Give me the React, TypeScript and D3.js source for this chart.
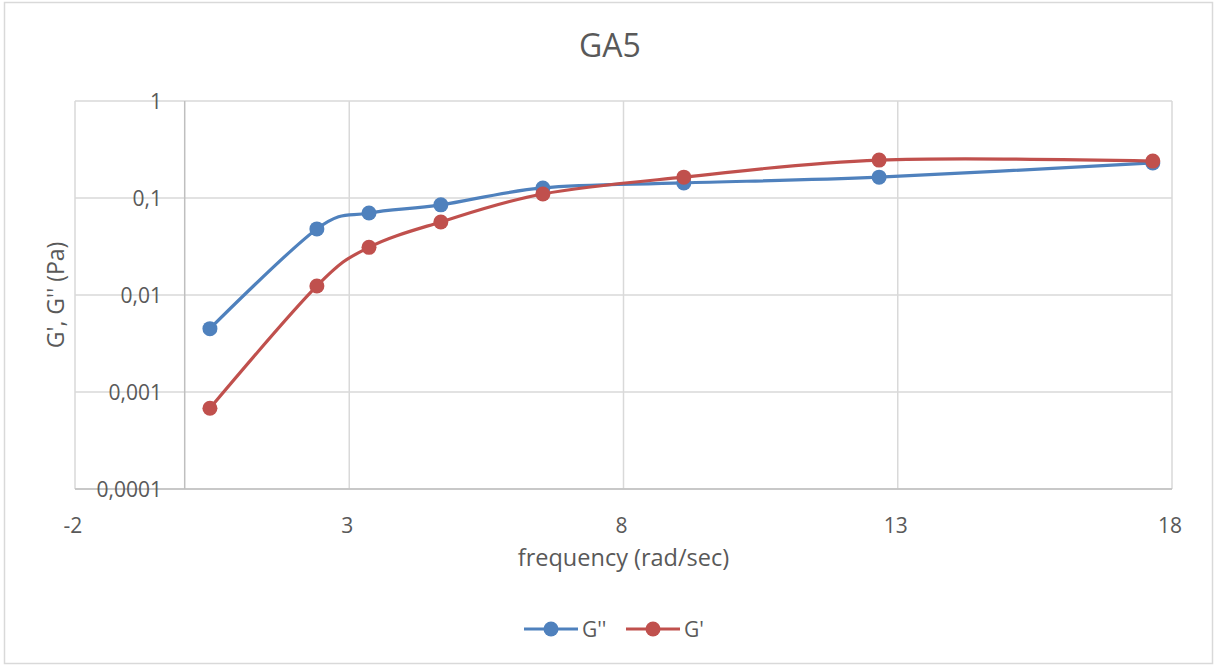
import React from "react";
import * as d3 from "d3";

const freq = [0.46, 2.41, 3.36, 4.67, 6.53, 9.1, 12.66, 17.65];
const gDoublePrime = [0.0045, 0.048, 0.070, 0.085, 0.127, 0.143, 0.164, 0.23];
const gPrime = [0.00068, 0.0124, 0.031, 0.0566, 0.11, 0.164, 0.246, 0.24];
const xTicks = [-2, 3, 8, 13, 18];
const yTicks = [1, 0.1, 0.01, 0.001, 0.0001];
const yTickLabels = ["1", "0,1", "0,01", "0,001", "0,0001"];

const W = 1215, H = 668;
const L = 75, R = 1172, T = 101, B = 489;
const FONT = "'Open Sans', 'Noto Sans', sans-serif";
const TXT = "#595959";

export default function App() {
  const x = d3.scaleLinear().domain([-2, 18]).range([L, R]);
  const y = d3.scaleLog().domain([0.0001, 1]).range([B, T]);
  const line = d3
    .line<[number, number]>()
    .x((d) => x(d[0]))
    .y((d) => y(d[1]))
    .curve(d3.curveCardinal.tension(0));
  const series = [
    { name: "G''", vals: gDoublePrime, color: "#4f81bd" },
    { name: "G'", vals: gPrime, color: "#c0504d" },
  ];
  return (
    <svg width={W} height={H} style={{ position: "absolute", left: 0, top: 0 }} fontFamily={FONT}>
      <rect x={0} y={0} width={W} height={H} fill="#fff" />
      <rect x={4.5} y={2.5} width={1208} height={661} fill="none" stroke="#d9d9d9" strokeWidth={1.5} />
      <text x={610} y={57} textAnchor="middle" fontSize={32} fill={TXT}>GA5</text>
      {yTicks.map((t) => (
        <line key={"h" + t} x1={L} x2={R} y1={y(t)} y2={y(t)} stroke="#d9d9d9" strokeWidth={1.5} />
      ))}
      {xTicks.map((t) => (
        <line key={"v" + t} x1={x(t)} x2={x(t)} y1={T} y2={B} stroke="#d9d9d9" strokeWidth={1.5} />
      ))}
      <line x1={x(0)} x2={x(0)} y1={T} y2={B} stroke="#bfbfbf" strokeWidth={1.5} />
      <line x1={L} x2={R} y1={B} y2={B} stroke="#bfbfbf" strokeWidth={1.5} />
      {yTicks.map((t, i) => (
        <text key={"yl" + t} x={162} y={y(t) + 7.5} textAnchor="end" fontSize={21} fill={TXT}>
          {yTickLabels[i]}
        </text>
      ))}
      {xTicks.map((t) => (
        <text key={"xl" + t} x={x(t) - 2} y={533} textAnchor="middle" fontSize={21} fill={TXT}>
          {t}
        </text>
      ))}
      <text x={623.5} y={566} textAnchor="middle" fontSize={23.5} fill={TXT}>frequency (rad/sec)</text>
      <text transform={`translate(64,${295}) rotate(-90)`} textAnchor="middle" fontSize={23} fill={TXT}>
        G', G'' (Pa)
      </text>
      {series.map((s) => {
        const pts: [number, number][] = freq.map((f, i) => [f, s.vals[i]]);
        return (
          <g key={s.name}>
            <path d={line(pts) || ""} fill="none" stroke={s.color} strokeWidth={3.2} strokeLinecap="round" />
            {pts.map((p, i) => (
              <circle key={i} cx={x(p[0])} cy={y(p[1])} r={7.5} fill={s.color} />
            ))}
          </g>
        );
      })}
      {series.map((s, i) => {
        const lx = 524 + i * 102;
        return (
          <g key={"lg" + s.name}>
            <line x1={lx} x2={lx + 54} y1={629} y2={629} stroke={s.color} strokeWidth={3.2} />
            <circle cx={lx + 27} cy={629} r={7.5} fill={s.color} />
            <text x={lx + 58} y={636.5} fontSize={21} fill={TXT}>{s.name}</text>
          </g>
        );
      })}
    </svg>
  );
}
